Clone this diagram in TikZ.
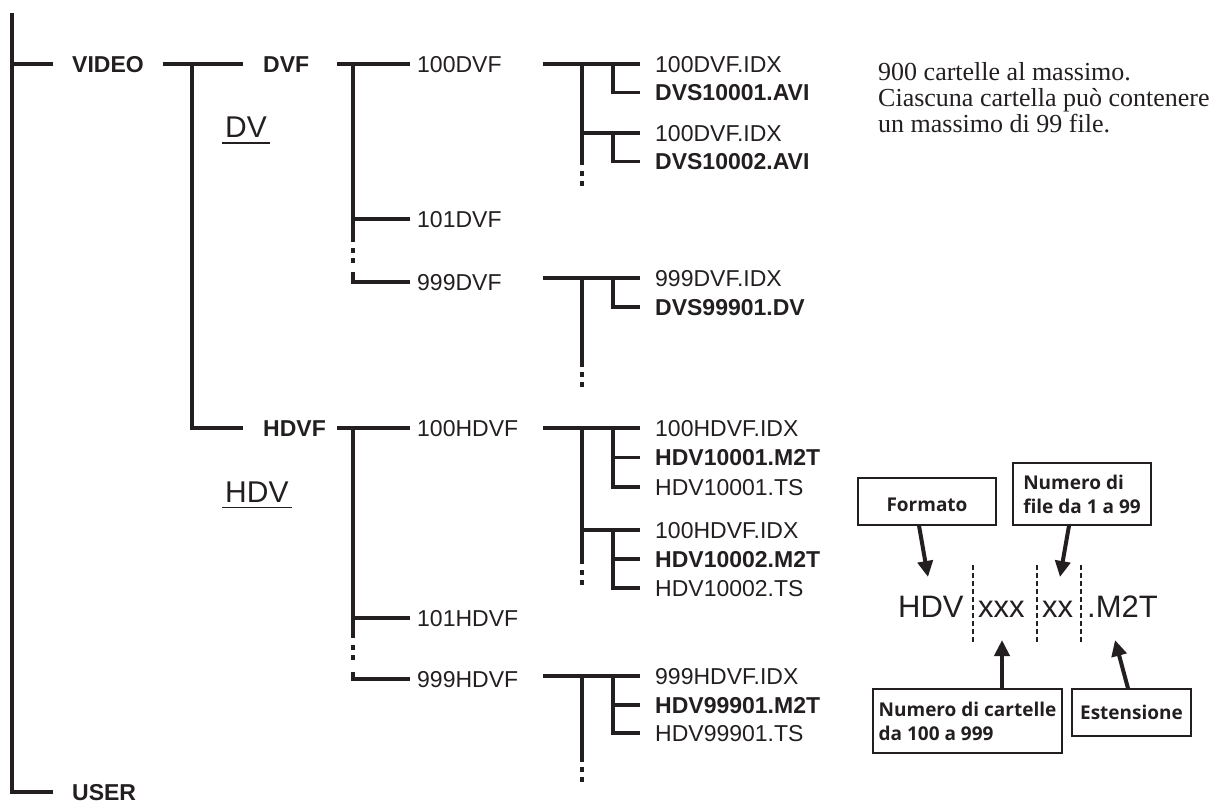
\documentclass[tikz,border=0pt]{standalone}
\usepackage{fontspec}
\usetikzlibrary{arrows.meta}
\newfontfamily\famHV{Liberation Sans}
\newfontfamily\famFR{Open Sans}
\newfontfamily\famSR{Liberation Serif}
\definecolor{ink}{HTML}{231F20}
\newcommand\treedots[2]{\draw[tree] (#1,#2) -- (#1,{#2+5}) (#1,{#2+10}) -- (#1,{#2+15});}
\tikzset{
  tree/.style={draw=ink, line width=3.6pt},
  lbl/.style={text=ink, font=\famHV\fontsize{23}{23}\selectfont, inner ysep=0pt, text height=16.5pt, text depth=0pt, anchor=west},
  blbl/.style={lbl, font=\famHV\bfseries\fontsize{23}{23}\selectfont},
  fld/.style={lbl, inner xsep=7pt},
  fil/.style={lbl, inner xsep=15pt},
  bfil/.style={fil, font=\famHV\bfseries\fontsize{23}{23}\selectfont},
  big/.style={text=ink, font=\famHV\fontsize{31}{31}\selectfont, inner sep=0pt, anchor=base west},
  dvlbl/.style={text=ink, font=\famHV\fontsize{30}{30}\selectfont, inner sep=0pt, anchor=base west},
  note/.style={text=ink, font=\famSR\fontsize{26}{26}\selectfont, inner sep=0pt, anchor=base west},
  lbox/.style={draw=ink, line width=1.3pt, text=ink, font=\famFR\bfseries\fontsize{19}{24}\selectfont, inner sep=0pt, align=left},
  dashl/.style={draw=ink, line width=1.8pt, dash pattern=on 4.5pt off 3.5pt},
  arr/.style={draw=ink, line width=4pt, -{Triangle[length=16pt,width=15pt]}},
  uline/.style={draw=ink, line width=1.5pt}
}
\begin{document}
\begin{tikzpicture}[x=1pt,y=-1pt]
\useasboundingbox (0,0) rectangle (1220,804);

% junction coordinates
\coordinate (r) at (12,13);
\coordinate (t1) at (192,0);
\coordinate (u) at (337,0);
\coordinate (t2) at (353,0);
\coordinate (s) at (543,0);
\coordinate (c) at (582,0);
\coordinate (b) at (613,0);

% level 0/1 labels
\node[blbl, inner xsep=19pt] (video) at (53,64) {VIDEO};
\node[blbl, inner xsep=19pt] (user) at (53,792) {USER};
\node[blbl, inner xsep=20pt] (dvf) at (243,64) {DVF};
\node[blbl, inner xsep=20pt] (hdvf) at (243,428) {HDVF};

% DV / HDV labels
\node[dvlbl] (dv) at (225,137) {DV};
\draw[uline] ([xshift=-3pt,yshift=-6pt]dv.base west) -- ([xshift=3pt,yshift=-6pt]dv.base east);
\node[dvlbl] (hdv) at (225,502) {HDV};
\draw[uline] ([xshift=-3pt,yshift=-5.5pt]hdv.base west) -- ([xshift=3pt,yshift=-5.5pt]hdv.base east);

% folder labels
\node[fld] (d100) at (410,64) {100DVF};
\node[fld] (d101) at (410,219) {101DVF};
\node[fld] (d999) at (410,282) {999DVF};
\node[fld] (h100) at (410,428) {100HDVF};
\node[fld] (h101) at (410,618) {101HDVF};
\node[fld] (h999) at (410,679) {999HDVF};

% file labels
\node[fil]  (fa1) at (640,64) {100DVF.IDX};
\node[bfil] (fa2) at (640,92.5) {DVS10001.AVI};
\node[fil]  (fa3) at (640,133) {100DVF.IDX};
\node[bfil] (fa4) at (640,161.5) {DVS10002.AVI};
\node[fil]  (fb1) at (640,278) {999DVF.IDX};
\node[bfil] (fb2) at (640,307) {DVS99901.DV};

\node[fil]  (ha1) at (640,428) {100HDVF.IDX};
\node[bfil] (ha2) at (640,457.5) {HDV10001.M2T};
\node[fil]  (ha3) at (640,487) {HDV10001.TS};
\node[fil]  (ha4) at (640,530) {100HDVF.IDX};
\node[bfil] (ha5) at (640,559) {HDV10002.M2T};
\node[fil]  (ha6) at (640,588) {HDV10002.TS};
\node[fil]  (hb1) at (640,676) {999HDVF.IDX};
\node[bfil] (hb2) at (640,705) {HDV99901.M2T};
\node[fil]  (hb3) at (640,733) {HDV99901.TS};

% level 0 / 1 connectors
\draw[tree] (r) |- (user.west);
\draw[tree] (video.west -| r) -- (video.west);
\draw[tree] (video.east) -- (dvf.west);
\draw[tree] (dvf.west -| t1) |- (hdvf.west);
\draw[tree] (dvf.west -| u) -- (d100.west);
\draw[tree] (hdvf.west -| u) -- (h100.west);

% DVF trunk
\draw[tree] (d100.west -| t2) -- (353,242);
\draw[tree] (d101.west -| t2) -- (d101.west);
\treedots{353}{248}
\draw[tree] (353,272) |- (d999.west);

% HDVF trunk
\draw[tree] (h100.west -| t2) -- (353,638);
\draw[tree] (h101.west -| t2) -- (h101.west);
\treedots{353}{645}
\draw[tree] (353,672) |- (h999.west);

% 100DVF files
\draw[tree] (fa1.west -| s) -- (fa1.west);
\draw[tree] (fa1.west -| c) -- (582,165);
\treedots{582}{171}
\draw[tree] (fa3.west -| c) -- (fa3.west);
\draw[tree] (fa1.west -| b) |- (fa2.west);
\draw[tree] (fa3.west -| b) |- (fa4.west);

% 999DVF files
\draw[tree] (fb1.west -| s) -- (fb1.west);
\draw[tree] (fb1.west -| c) -- (582,367);
\treedots{582}{372}
\draw[tree] (fb1.west -| b) |- (fb2.west);

% 100HDVF files
\draw[tree] (ha1.west -| s) -- (ha1.west);
\draw[tree] (ha1.west -| c) -- (582,564);
\treedots{582}{570}
\draw[tree] (ha4.west -| c) -- (ha4.west);
\draw[tree] (ha1.west -| b) |- (ha3.west);
\draw[tree] (ha2.west -| b) -- (ha2.west);
\draw[tree] (ha4.west -| b) |- (ha6.west);
\draw[tree] (ha5.west -| b) -- (ha5.west);

% 999HDVF files
\draw[tree] (hb1.west -| s) -- (hb1.west);
\draw[tree] (hb1.west -| c) -- (582,762);
\treedots{582}{767}
\draw[tree] (hb1.west -| b) |- (hb3.west);
\draw[tree] (hb2.west -| b) -- (hb2.west);

% note text
\node[note] (n1) at (878,80) {900 cartelle al massimo.};
\node[note] (n2) at (878,106) {Ciascuna cartella può contenere};
\node[note] (n3) at (878,132) {un massimo di 99 file.};

% file name scheme
\node[big] (pHDV) at (898,617) {HDV};
\node[big] (pxxx) at (978,617) {xxx};
\node[big] (pxx) at (1042,617) {xx};
\node[big] (pext) at (1087,617) {.M2T};
\draw[dashl] (973,565) -- (973,643);
\draw[dashl] (1037,565) -- (1037,643);
\draw[dashl] (1081,565) -- (1081,643);

% boxes
\node[lbox, minimum width=138pt, minimum height=47pt, text height=21pt] (formato) at (927,501.5) {Formato};
\node[lbox, minimum width=138pt, minimum height=62pt] (nfile) at (1082,494) {Numero di\\file da 1 a 99};
\node[lbox, minimum width=189pt, minimum height=64pt] (ncart) at (967.5,721) {Numero di cartelle\\da 100 a 999};
\node[lbox, minimum width=119pt, minimum height=47pt] (est) at (1131.5,712.5) {Estensione};

% arrow tips
\coordinate (tipF) at (928,577);
\coordinate (tipN) at (1060,577);
\coordinate (tipC) at (1002,640);
\coordinate (tipE) at (1115,640);
\draw[arr] ([xshift=-8pt]formato.south) -- (tipF);
\draw[arr] ([xshift=-13pt]nfile.south) -- (tipN);
\draw[arr] ([xshift=34.5pt]ncart.north) -- (tipC);
\draw[arr] ([xshift=-3.5pt]est.north) -- (tipE);
\end{tikzpicture}
\end{document}
